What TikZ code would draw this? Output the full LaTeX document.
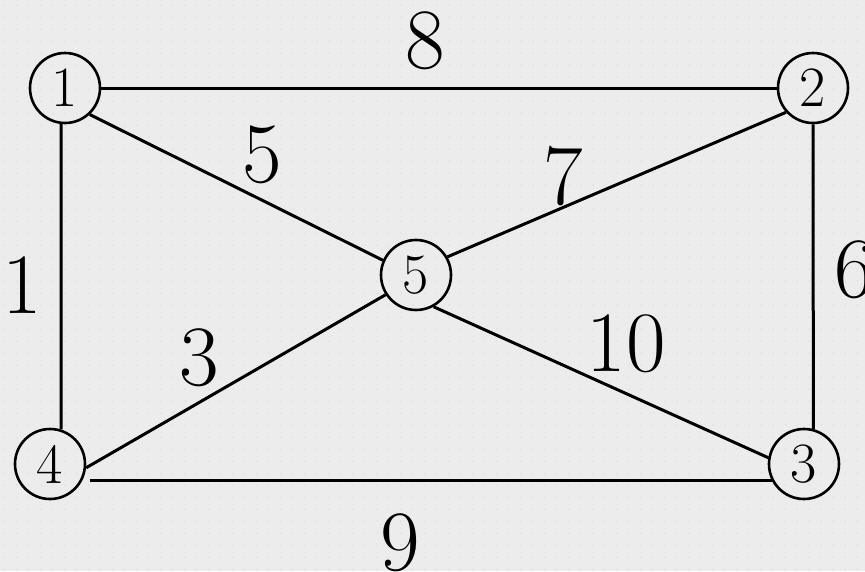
\documentclass[tikz,border=0pt]{standalone}
\usepackage{fontspec}
\begin{document}
\begin{tikzpicture}[x=1pt,y=-1pt,
  vert/.style={circle,draw=black,line width=2.6pt,minimum size=70pt,inner sep=0pt,
    font=\fontsize{57}{60}\selectfont},
  edge/.style={line width=3pt,black},
  wlabel/.style={inner sep=0pt,font=\fontsize{86}{90}\selectfont}]
\definecolor{bg}{RGB}{236,236,236}
\definecolor{bgdot}{RGB}{226,226,226}
\fill[bg] (0,0) rectangle (865,571);
\useasboundingbox (0,0) rectangle (865,571);
\foreach \i in {0,...,72}{\foreach \j in {0,...,47}{
  \fill[bgdot] (\i*12+5,\j*12+5) circle (1pt);}}
\node[vert] (n1) at (65,88) {1};
\node[vert] (n2) at (813,88) {2};
\node[vert] (n5) at (416,275) {5};
\node[vert] (n4) at (50,464) {4};
\node[vert] (n3) at (804,464) {3};
\draw[edge] (n1) -- (n2);
\draw[edge] (n1.-96) -- (n4.72);
\draw[edge] (n2.south) -- (n3.75);
\draw[edge] ([xshift=8pt]n4.-27) -- (n3.207);
\draw[edge] (n1.-47) -- (n5.156);
\draw[edge] (n5.30) -- (n2.222);
\draw[edge] (n5.213) -- (n4.-6);
\draw[edge] (n5.-61) -- (n3.170);
\node[wlabel] (l8) at (425,41) {8};
\node[wlabel] (l5) at (262,155) {5};
\node[wlabel] (l7) at (563,176) {7};
\node[wlabel] (l1) at (22,285) {1};
\node[wlabel] (l6) at (854,270) {6};
\node[wlabel] (l3) at (199,358) {3};
\node[wlabel] (l10) at (626,344) {10};
\node[wlabel] (l9) at (400,543) {9};
\end{tikzpicture}
\end{document}
